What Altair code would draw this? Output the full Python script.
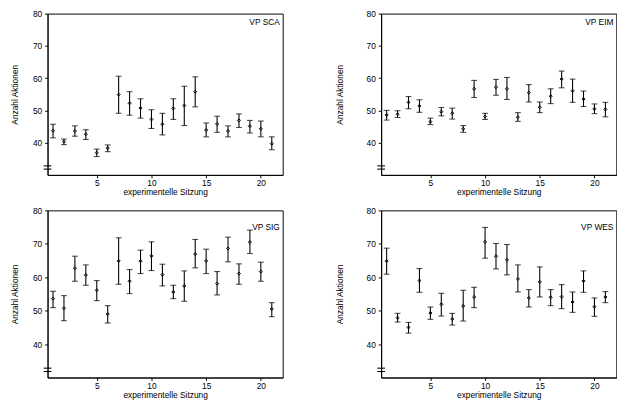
import altair as alt
import pandas as pd

sessions = list(range(1, 22))
panel_names = ["VP SCA", "VP EIM", "VP SIG", "VP WES"]

sca_mean = [43.7, 40.3, 43.6, 42.6, 36.9, 38.3, 54.9, 52.2, 50.7, 47.2, 45.7, 50.6, 51.5, 55.8, 43.9, 45.8, 43.6, 46.9, 45.1, 44.3, 39.7]
sca_low = [41.5, 39.4, 42.0, 41.0, 35.7, 37.2, 49.1, 48.5, 47.6, 44.4, 42.4, 47.2, 45.3, 51.1, 41.8, 43.2, 41.8, 44.7, 43.0, 41.8, 37.8]
sca_high = [45.7, 41.1, 45.2, 44.0, 38.0, 39.3, 60.6, 55.8, 53.6, 50.2, 49.1, 53.6, 57.5, 60.4, 46.1, 48.2, 45.2, 48.9, 46.9, 46.7, 41.8]

eim_mean = [48.6, 48.8, 52.5, 51.4, 46.5, 49.6, 49.1, 44.3, 56.7, 48.1, 57.2, 56.7, 47.9, 55.5, 51.0, 54.4, 59.7, 56.1, 53.5, 50.5, 50.3]
eim_low = [47.0, 47.8, 50.5, 49.4, 45.6, 48.3, 47.3, 43.2, 54.0, 47.2, 54.7, 53.4, 46.6, 52.6, 49.3, 52.1, 57.0, 52.5, 51.2, 49.0, 48.0]
eim_high = [50.0, 49.9, 54.3, 53.3, 47.6, 50.9, 50.7, 45.3, 59.3, 49.1, 59.6, 60.2, 49.3, 58.0, 52.6, 56.7, 62.2, 59.7, 56.0, 52.0, 52.5]

sig_mean = [53.6, 50.7, 62.7, 60.7, 56.1, 49.0, 64.9, 58.8, 64.8, 66.4, 60.8, 55.6, 57.4, 66.9, 64.9, 58.1, 68.6, 61.1, 70.5, 61.7, 50.5]
sig_low = [50.9, 47.0, 58.8, 57.6, 53.0, 46.3, 57.9, 55.1, 61.1, 62.0, 57.4, 53.6, 52.8, 62.8, 61.1, 54.7, 64.6, 57.9, 67.1, 58.8, 48.2]
sig_high = [55.8, 54.5, 66.3, 63.7, 59.0, 51.5, 71.8, 62.3, 68.1, 70.6, 63.9, 57.6, 61.9, 71.3, 68.4, 61.7, 72.0, 64.0, 74.1, 64.5, 52.4]

wes_mean = [64.8, 47.9, 45.0, 59.0, 49.3, 51.9, 47.5, 51.4, 54.1, 70.6, 66.3, 65.2, 59.5, 53.8, 58.6, 54.0, 54.2, 52.6, 58.9, 51.2, 54.1]
wes_low = [60.9, 46.6, 43.3, 55.5, 47.4, 48.4, 45.7, 46.9, 50.9, 65.7, 62.5, 60.7, 55.6, 51.1, 54.1, 51.5, 50.6, 49.5, 55.5, 48.3, 52.4]
wes_high = [68.7, 49.2, 46.5, 62.6, 51.1, 55.2, 49.2, 56.1, 57.0, 74.9, 70.1, 69.8, 63.7, 56.3, 63.1, 56.3, 57.8, 55.6, 61.9, 53.8, 55.7]

x_ticks = [5, 10, 15, 20]
y_ticks = [40, 50, 60, 70, 80]
break_y = [31.8, 32.8]

FONT = "Liberation Sans"
FS = 8.6


def panel(name, mean, low, high, h, label_y, title_pad):
    df = pd.DataFrame({"Sitzung": sessions, "mean": mean, "low": low, "high": high})
    xscale = alt.Scale(domain=[0.5, 22], nice=False, zero=False)
    yscale = alt.Scale(domain=[30, 80], nice=False, zero=False)
    xaxis = alt.Axis(values=x_ticks, title="experimentelle Sitzung")
    yaxis = alt.Axis(values=y_ticks, title="Anzahl Aktionen", titlePadding=title_pad)
    X = alt.X("Sitzung:Q", scale=xscale, axis=xaxis)
    base = alt.Chart(df)
    rules = base.mark_rule(color="black", strokeWidth=1.1).encode(
        x=X, y=alt.Y("low:Q", scale=yscale, axis=yaxis), y2="high:Q")
    cap_lo = base.mark_tick(orient="horizontal", size=6, thickness=1.1, color="black").encode(
        x=X, y=alt.Y("low:Q", scale=yscale, axis=yaxis))
    cap_hi = base.mark_tick(orient="horizontal", size=6, thickness=1.1, color="black").encode(
        x=X, y=alt.Y("high:Q", scale=yscale, axis=yaxis))
    pts = base.mark_point(shape="diamond", size=10, filled=False, color="black", strokeWidth=1, opacity=1).encode(
        x=X, y=alt.Y("mean:Q", scale=yscale, axis=yaxis))
    brk = alt.Chart(pd.DataFrame({"b": break_y})).mark_rule(color="black", strokeWidth=1.1).encode(
        x=alt.value(-4), x2=alt.value(4), y=alt.Y("b:Q", scale=yscale, axis=yaxis))
    lab = alt.Chart(pd.DataFrame({"label": [name]})).mark_text(
        align="right", baseline="middle", font=FONT, fontSize=FS, color="black").encode(
        x=alt.value(239), y=alt.value(label_y), text="label:N")
    return alt.layer(rules, cap_lo, cap_hi, pts, brk, lab).properties(width=242, height=h)


p1 = panel(panel_names[0], sca_mean, sca_low, sca_high, 166, 9, 13.5)
p2 = panel(panel_names[1], eim_mean, eim_low, eim_high, 166, 9, 22)
p3 = panel(panel_names[2], sig_mean, sig_low, sig_high, 172, 17, 13.5)
p4 = panel(panel_names[3], wes_mean, wes_low, wes_high, 172, 17, 22)

top = alt.hconcat(p1, p2, spacing=52.3)
bottom = alt.hconcat(p3, p4, spacing=52.3)

chart = alt.vconcat(top, bottom, spacing=8.5).properties(
    padding={"left": 1.7, "top": -5, "right": 0, "bottom": 0},
    background="white",
).configure_view(
    stroke="black", strokeWidth=1
).configure_axis(
    grid=False,
    domainColor="black", domainWidth=1,
    tickColor="black", tickSize=3, tickWidth=1,
    labelFont=FONT, labelFontSize=FS, labelColor="black", labelPadding=2,
    titleFont=FONT, titleFontSize=FS, titleColor="black", titleFontWeight="normal",
).configure_axisY(
    labelPadding=3
).configure_axisX(
    labelPadding=1, titlePadding=0.5
)

chart.save("out.html", embed_options={"renderer": "svg", "actions": False})
